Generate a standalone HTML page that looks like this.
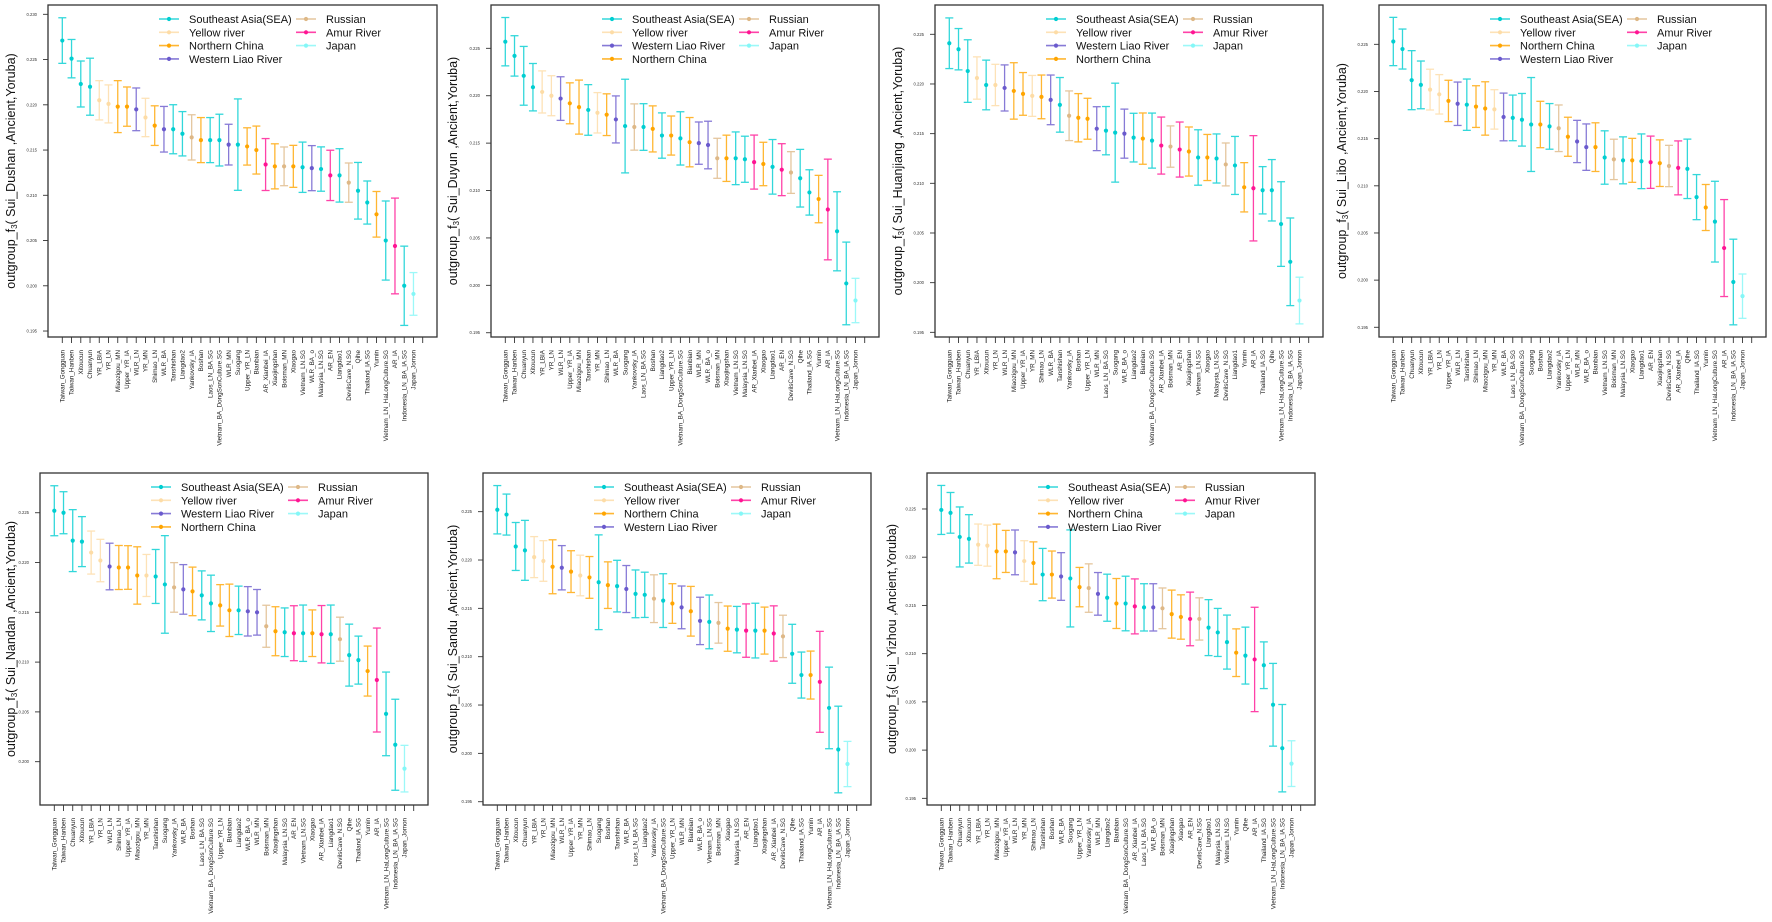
<!DOCTYPE html>
<html><head><meta charset="utf-8"><title>outgroup f3 panels</title>
<style>
html,body{margin:0;padding:0;background:#fff;}
svg{display:block;font-family:"Liberation Sans",Arial,sans-serif;}
</style></head>
<body>
<svg id="fig" width="1772" height="922" viewBox="0 0 1772 922" xmlns="http://www.w3.org/2000/svg">
<rect x="0" y="0" width="1772" height="922" fill="#fff"/>
</svg>
<script>
// ---------- Panel 1: Sui_Dushan ----------
const names_dushan = ["Taiwan_Gongguan","Taiwan_Hanben","Xitoucun","Chuanyun","YR_LBIA","YR_LN","Miaozigou_MN","Upper_YR_IA","WLR_LN","YR_MN","Shimao_LN","WLR_BA","Tanshishan","Liangdao2","Yankovsky_IA","Boshan","Laos_LN_BA.SG","Vietnam_BA_DongSonCulture.SG","WLR_MN","Suogang","Upper_YR_LN","Bianbian","AR_Xianbei_IA","Xiaojingshan","Boisman_MN","Xiaogao","Vietnam_LN.SG","WLR_BA_o","Malaysia_LN.SG","AR_EN","Liangdao1","DevilsCave_N.SG","Qihe","Thailand_IA.SG","Yumin","Vietnam_LN_HaLongCulture.SG","AR_IA","Indonesia_LN_BA_IA.SG","Japan_Jomon"];
const values_dushan = [0.2271,0.2251,0.2223,0.2220,0.2205,0.2201,0.2198,0.2198,0.2195,0.2186,0.2177,0.2173,0.2173,0.2168,0.2164,0.2161,0.2161,0.2161,0.2156,0.2156,0.2154,0.2150,0.2134,0.2132,0.2132,0.2132,0.2131,0.2130,0.2129,0.2122,0.2122,0.2114,0.2105,0.2092,0.2079,0.2050,0.2044,0.2000,0.1991];
const errors_dushan = [0.00252,0.00212,0.00254,0.00315,0.00217,0.0021,0.00287,0.00217,0.00236,0.00212,0.00219,0.00252,0.00271,0.00245,0.0025,0.00249,0.00249,0.00286,0.00225,0.00505,0.00206,0.00265,0.00287,0.00249,0.00214,0.00232,0.00278,0.00249,0.00245,0.00278,0.00295,0.00217,0.00313,0.00238,0.00252,0.00437,0.00529,0.00438,0.00236];
const ticks_dushan = [0.195,0.200,0.205,0.210,0.215,0.220,0.225,0.230];

// ---------- Panel 2: Sui_Duyun ----------
const names_duyun = ["Taiwan_Gongguan","Taiwan_Hanben","Chuanyun","Xitoucun","YR_LBIA","YR_LN","WLR_LN","Upper_YR_IA","Miaozigou_MN","Tanshishan","YR_MN","Shimao_LN","WLR_BA","Suogang","Yankovsky_IA","Laos_LN_BA.SG","Boshan","Liangdao2","Upper_YR_LN","Vietnam_BA_DongSonCulture.SG","Bianbian","WLR_MN","WLR_BA_o","Boisman_MN","Xiaojingshan","Vietnam_LN.SG","Malaysia_LN.SG","AR_Xianbei_IA","Xiaogao","Liangdao1","AR_EN","DevilsCave_N.SG","Qihe","Thailand_IA.SG","Yumin","AR_IA","Vietnam_LN_HaLongCulture.SG","Indonesia_LN_BA_IA.SG","Japan_Jomon"];
const values_duyun = [0.2257,0.2242,0.2221,0.2209,0.2204,0.2200,0.2197,0.2192,0.2188,0.2185,0.2182,0.2180,0.2175,0.2168,0.2167,0.2167,0.2165,0.2158,0.2158,0.2155,0.2151,0.2150,0.2148,0.2134,0.2134,0.2134,0.2133,0.2130,0.2128,0.2125,0.2122,0.2119,0.2113,0.2098,0.2091,0.2080,0.2057,0.2002,0.1984];
const errors_duyun = [0.00255,0.00213,0.0031,0.0025,0.00222,0.00211,0.0023,0.00216,0.00285,0.00267,0.00213,0.0022,0.00248,0.00494,0.00244,0.00246,0.00243,0.00239,0.00206,0.00281,0.0026,0.00223,0.00251,0.00211,0.00244,0.00278,0.00243,0.00285,0.00229,0.00288,0.00274,0.0022,0.00304,0.00239,0.0025,0.00531,0.00417,0.00436,0.00234];
const ticks_duyun = [0.195,0.200,0.205,0.210,0.215,0.220,0.225];

// ---------- Panel 3: Sui_Huanjiang ----------
const names_huanjiang = ["Taiwan_Gongguan","Taiwan_Hanben","Chuanyun","YR_LBIA","Xitoucun","YR_LN","WLR_LN","Miaozigou_MN","Upper_YR_IA","YR_MN","Shimao_LN","WLR_BA","Tanshishan","Yankovsky_IA","Boshan","Upper_YR_LN","WLR_MN","Laos_LN_BA.SG","Suogang","WLR_BA_o","Liangdao2","Bianbian","Vietnam_BA_DongSonCulture.SG","AR_Xianbei_IA","Boisman_MN","AR_EN","Xiaojingshan","Vietnam_LN.SG","Xiaogao","Malaysia_LN.SG","DevilsCave_N.SG","Liangdao1","Yumin","AR_IA","Thailand_IA.SG","Qihe","Vietnam_LN_HaLongCulture.SG","Indonesia_LN_BA_IA.SG","Japan_Jomon"];
const values_huanjiang = [0.2241,0.2235,0.2213,0.2206,0.2199,0.2199,0.2196,0.2193,0.2190,0.2188,0.2187,0.2184,0.2179,0.2168,0.2166,0.2165,0.2155,0.2153,0.2151,0.2150,0.2146,0.2145,0.2143,0.2138,0.2137,0.2134,0.2132,0.2126,0.2126,0.2125,0.2119,0.2118,0.2096,0.2095,0.2093,0.2093,0.2059,0.2021,0.1982];
const errors_huanjiang = [0.00255,0.00208,0.00315,0.00213,0.0025,0.00208,0.00232,0.00284,0.00215,0.00206,0.0022,0.0025,0.00275,0.0025,0.00243,0.00206,0.00221,0.00243,0.00498,0.00247,0.00245,0.00258,0.00277,0.00287,0.00208,0.00277,0.00247,0.00279,0.00232,0.00247,0.00216,0.00292,0.00248,0.0053,0.00238,0.00309,0.00426,0.00441,0.00235];
const ticks_huanjiang = [0.195,0.200,0.205,0.210,0.215,0.220,0.225];

// ---------- Panel 4: Sui_Libo ----------
const names_libo = ["Taiwan_Gongguan","Taiwan_Hanben","Chuanyun","Xitoucun","YR_LBIA","YR_LN","Upper_YR_IA","WLR_LN","Tanshishan","Shimao_LN","Miaozigou_MN","YR_MN","WLR_BA","Laos_LN_BA.SG","Vietnam_BA_DongSonCulture.SG","Suogang","Boshan","Liangdao2","Yankovsky_IA","Upper_YR_LN","WLR_MN","WLR_BA_o","Bianbian","Vietnam_LN.SG","Boisman_MN","Malaysia_LN.SG","Xiaogao","Liangdao1","AR_EN","Xiaojingshan","DevilsCave_N.SG","AR_Xianbei_IA","Qihe","Thailand_IA.SG","Yumin","Vietnam_LN_HaLongCulture.SG","AR_IA","Indonesia_LN_BA_IA.SG","Japan_Jomon"];
const values_libo = [0.2253,0.2245,0.2212,0.2207,0.2202,0.2197,0.2190,0.2187,0.2186,0.2184,0.2182,0.2181,0.2173,0.2172,0.2170,0.2165,0.2165,0.2163,0.2161,0.2152,0.2147,0.2141,0.2141,0.2130,0.2128,0.2127,0.2127,0.2126,0.2125,0.2124,0.2121,0.2119,0.2118,0.2088,0.2077,0.2062,0.2034,0.1998,0.1983];
const errors_libo = [0.00256,0.00212,0.00313,0.00253,0.00216,0.00209,0.00219,0.0023,0.00272,0.00221,0.00283,0.00209,0.00253,0.00242,0.00279,0.00498,0.00246,0.00242,0.00247,0.00207,0.00224,0.00246,0.00258,0.00283,0.00214,0.00249,0.00233,0.0029,0.00277,0.00247,0.00219,0.00286,0.00315,0.00239,0.00244,0.00428,0.00514,0.00454,0.00235];
const ticks_libo = [0.195,0.200,0.205,0.210,0.215,0.220,0.225];

// ---------- Panel 5: Sui_Nandan ----------
const names_nandan = ["Taiwan_Gongguan","Taiwan_Hanben","Chuanyun","Xitoucun","YR_LBIA","YR_LN","WLR_LN","Shimao_LN","Upper_YR_IA","Miaozigou_MN","YR_MN","Tanshishan","Suogang","Yankovsky_IA","WLR_BA","Boshan","Laos_LN_BA.SG","Vietnam_BA_DongSonCulture.SG","Upper_YR_LN","Bianbian","Liangdao2","WLR_BA_o","WLR_MN","Boisman_MN","Xiaojingshan","Malaysia_LN.SG","AR_EN","Vietnam_LN.SG","Xiaogao","AR_Xianbei_IA","Liangdao1","DevilsCave_N.SG","Qihe","Thailand_IA.SG","Yumin","AR_IA","Vietnam_LN_HaLongCulture.SG","Indonesia_LN_BA_IA.SG","Japan_Jomon"];
const values_nandan = [0.2252,0.2250,0.2222,0.2221,0.2210,0.2202,0.2196,0.2195,0.2195,0.2187,0.2187,0.2186,0.2178,0.2175,0.2173,0.2171,0.2167,0.2159,0.2157,0.2152,0.2152,0.2151,0.2150,0.2136,0.2131,0.2130,0.2129,0.2129,0.2129,0.2128,0.2128,0.2123,0.2107,0.2102,0.2091,0.2082,0.2048,0.2017,0.1993];
const errors_nandan = [0.00251,0.00211,0.00311,0.00251,0.00216,0.00213,0.00234,0.00221,0.00219,0.00288,0.00211,0.00271,0.0049,0.00249,0.00249,0.00244,0.00246,0.00283,0.00208,0.00263,0.00243,0.00248,0.00229,0.00211,0.00246,0.00244,0.00276,0.00283,0.00234,0.00288,0.00293,0.00221,0.00311,0.00241,0.00251,0.00522,0.0042,0.00457,0.00234];
const ticks_nandan = [0.200,0.205,0.210,0.215,0.220,0.225];

// ---------- Panel 6: Sui_Sandu ----------
const names_sandu = ["Taiwan_Gongguan","Taiwan_Hanben","Xitoucun","Chuanyun","YR_LBIA","YR_LN","Miaozigou_MN","WLR_LN","Upper_YR_IA","YR_MN","Shimao_LN","Suogang","Boshan","Tanshishan","WLR_BA","Laos_LN_BA.SG","Liangdao2","Yankovsky_IA","Vietnam_BA_DongSonCulture.SG","Upper_YR_LN","WLR_MN","Bianbian","WLR_BA_o","Vietnam_LN.SG","Boisman_MN","Xiaogao","Malaysia_LN.SG","AR_EN","Liangdao1","Xiaojingshan","AR_Xianbei_IA","DevilsCave_N.SG","Qihe","Thailand_IA.SG","Yumin","AR_IA","Vietnam_LN_HaLongCulture.SG","Indonesia_LN_BA_IA.SG","Japan_Jomon"];
const values_sandu = [0.2252,0.2247,0.2214,0.2210,0.2203,0.2199,0.2193,0.2192,0.2188,0.2184,0.2182,0.2177,0.2174,0.2173,0.2170,0.2165,0.2164,0.2160,0.2158,0.2155,0.2151,0.2147,0.2137,0.2136,0.2135,0.2129,0.2128,0.2127,0.2127,0.2127,0.2124,0.2121,0.2103,0.2081,0.2081,0.2074,0.2047,0.2004,0.1989];
const errors_sandu = [0.0025,0.00212,0.00248,0.0031,0.00212,0.0021,0.00279,0.00229,0.00216,0.0021,0.00216,0.0049,0.00241,0.00267,0.00243,0.00247,0.00234,0.00247,0.00278,0.00205,0.00221,0.00257,0.00245,0.00278,0.0021,0.00234,0.0024,0.00276,0.00283,0.00243,0.00286,0.00219,0.00305,0.00238,0.00248,0.00522,0.00422,0.00448,0.00234];
const ticks_sandu = [0.195,0.200,0.205,0.210,0.215,0.220,0.225];

// ---------- Panel 7: Sui_Yizhou ----------
const names_yizhou = ["Taiwan_Gongguan","Taiwan_Hanben","Chuanyun","Xitoucun","YR_LBIA","YR_LN","Miaozigou_MN","Upper_YR_IA","WLR_LN","YR_MN","Shimao_LN","Tanshishan","Boshan","WLR_BA","Suogang","Upper_YR_LN","Yankovsky_IA","WLR_MN","Liangdao2","Bianbian","Vietnam_BA_DongSonCulture.SG","AR_Xianbei_IA","Laos_LN_BA.SG","WLR_BA_o","Boisman_MN","Xiaojingshan","Xiaogao","AR_EN","DevilsCave_N.SG","Liangdao1","Malaysia_LN.SG","Vietnam_LN.SG","Yumin","Qihe","AR_IA","Thailand_IA.SG","Vietnam_LN_HaLongCulture.SG","Indonesia_LN_BA_IA.SG","Japan_Jomon"];
const values_yizhou = [0.2249,0.2246,0.2221,0.2219,0.2213,0.2212,0.2206,0.2206,0.2205,0.2196,0.2194,0.2182,0.2182,0.2180,0.2178,0.2169,0.2168,0.2162,0.2158,0.2152,0.2152,0.2149,0.2148,0.2148,0.2147,0.2141,0.2138,0.2136,0.2136,0.2127,0.2122,0.2112,0.2101,0.2098,0.2094,0.2088,0.2047,0.2002,0.1986];
const errors_yizhou = [0.00254,0.00211,0.00311,0.00251,0.00214,0.00213,0.00283,0.00218,0.00232,0.00211,0.00219,0.00271,0.00244,0.00247,0.00503,0.00204,0.00251,0.00221,0.00244,0.00259,0.00283,0.00285,0.00245,0.00245,0.00211,0.00249,0.0023,0.00278,0.00219,0.0029,0.00249,0.0028,0.00247,0.00295,0.00541,0.00242,0.00429,0.00453,0.00237];
const ticks_yizhou = [0.195,0.200,0.205,0.210,0.215,0.220,0.225];

// ---------- groups ----------
const groupOf = {
  "Taiwan_Gongguan":"SEA","Taiwan_Hanben":"SEA","Xitoucun":"SEA","Chuanyun":"SEA","Tanshishan":"SEA","Liangdao2":"SEA",
  "Laos_LN_BA.SG":"SEA","Vietnam_BA_DongSonCulture.SG":"SEA","Suogang":"SEA","Vietnam_LN.SG":"SEA","Malaysia_LN.SG":"SEA",
  "Liangdao1":"SEA","Qihe":"SEA","Thailand_IA.SG":"SEA","Vietnam_LN_HaLongCulture.SG":"SEA","Indonesia_LN_BA_IA.SG":"SEA",
  "YR_LBIA":"YR","YR_LN":"YR","YR_MN":"YR",
  "Miaozigou_MN":"NC","Upper_YR_IA":"NC","Shimao_LN":"NC","Boshan":"NC","Upper_YR_LN":"NC","Bianbian":"NC","Xiaojingshan":"NC","Xiaogao":"NC","Yumin":"NC",
  "WLR_LN":"WLR","WLR_BA":"WLR","WLR_MN":"WLR","WLR_BA_o":"WLR",
  "Yankovsky_IA":"RU","Boisman_MN":"RU","DevilsCave_N.SG":"RU",
  "AR_Xianbei_IA":"AR","AR_EN":"AR","AR_IA":"AR","Japan_Jomon":"JP"
};
const groupColor = {SEA:"#00CED1",YR:"#FDDCA6",NC:"#FFA500",WLR:"#6A5ACD",RU:"#DEB887",AR:"#FF1493",JP:"#84F7F7"};
const groupLabel = {SEA:"Southeast Asia(SEA)",YR:"Yellow river",NC:"Northern China",WLR:"Western Liao River",RU:"Russian",AR:"Amur River",JP:"Japan"};
const legendA = ["SEA","YR","NC","WLR"];
const legendB = ["SEA","YR","WLR","NC"];

const panels = [
  {id:"dushan",title:"Sui_Dushan",names:names_dushan,vals:values_dushan,errs:errors_dushan,ticks:ticks_dushan,leg:legendA,box:[48,5,437,337],ylim:[0.19434,0.23103],toff:37},
  {id:"duyun",title:"Sui_Duyun",names:names_duyun,vals:values_duyun,errs:errors_duyun,ticks:ticks_duyun,leg:legendB,box:[491,5,879,337],ylim:[0.19455,0.22957],toff:38},
  {id:"huanjiang",title:"Sui_Huanjiang",names:names_huanjiang,vals:values_huanjiang,errs:errors_huanjiang,ticks:ticks_huanjiang,leg:legendB,box:[935,5,1323,337],ylim:[0.19453,0.22795],toff:37},
  {id:"libo",title:"Sui_Libo",names:names_libo,vals:values_libo,errs:errors_libo,ticks:ticks_libo,leg:legendA,box:[1379,5,1766,337],ylim:[0.19397,0.22917],toff:37},
  {id:"nandan",title:"Sui_Nandan",names:names_nandan,vals:values_nandan,errs:errors_nandan,ticks:ticks_nandan,leg:legendB,box:[40,473,428,805],ylim:[0.19565,0.22899],toff:29},
  {id:"sandu",title:"Sui_Sandu",names:names_sandu,vals:values_sandu,errs:errors_sandu,ticks:ticks_sandu,leg:legendA,box:[483,473,871,805],ylim:[0.19466,0.2290],toff:30},
  {id:"yizhou",title:"Sui_Yizhou",names:names_yizhou,vals:values_yizhou,errs:errors_yizhou,ticks:ticks_yizhou,leg:legendA,box:[927,473,1315,805],ylim:[0.19431,0.22873],toff:35}
];

const NS = "http://www.w3.org/2000/svg";
const svg = document.getElementById("fig");
function mk(tag, attrs, parent){
  const e = document.createElementNS(NS, tag);
  for (const k in attrs) e.setAttribute(k, attrs[k]);
  parent.appendChild(e);
  return e;
}

panels.forEach(p => {
  const [x0,y0,x1,y1] = p.box;
  const n = p.names.length;
  const xs = i => x0 + 14.3 + i * (x1 - x0 - 28.6) / n;
  const ys = v => y0 + (p.ylim[1] - v) / (p.ylim[1] - p.ylim[0]) * (y1 - y0);

  const g = mk("g", {}, svg);
  
  

  const frame = mk("rect", {x:x0, y:y0, width:x1-x0, height:y1-y0, fill:"none", stroke:"#333", "stroke-width":1.3}, g);
  
  

  p.ticks.forEach(t => {
    const y = ys(t);
    const tl = mk("line", {x1:x0-5, x2:x0, y1:y, y2:y, stroke:"#333", "stroke-width":0.9}, g);
    
    
    const tx = mk("text", {x:x0-11, y:y+1.5, "font-size":4.2, "text-anchor":"end", fill:"#333"}, g);
    tx.textContent = t.toFixed(3);
    
    
  });

  const cy = (y0 + y1) / 2, cx = x0 - p.toff + 4;
  const yt = mk("text", {x:cx, y:cy, "font-size":12.5, "text-anchor":"middle", fill:"#111", transform:`rotate(-90 ${cx} ${cy})`}, g);
  
  
  const t1 = mk("tspan", {}, yt); t1.textContent = "outgroup_f";
  const t2 = mk("tspan", {"font-size":8, dy:2}, yt); t2.textContent = "3";
  const t3 = mk("tspan", {dy:-2}, yt); t3.textContent = "( " + p.title + " ,Ancient,Yoruba)";

  for (let i = 0; i <= n; i++) {
    const x = xs(i);
    const tk = mk("line", {x1:x, x2:x, y1:y1, y2:y1+6, stroke:"#333", "stroke-width":0.9}, g);
    
    
  }
  p.names.forEach((nm, i) => {
    const x = xs(i) + 2.2, y = y1 + 13;
    const lb = mk("text", {x:x, y:y, "font-size":6.3, "text-anchor":"end", fill:"#222", transform:`rotate(-90 ${x} ${y})`}, g);
    lb.textContent = nm;
    
    
  });

  p.names.forEach((nm, i) => {
    const c = groupColor[groupOf[nm]];
    const x = xs(i), v = p.vals[i], e = p.errs[i];
    const yt_ = ys(v + e), yb = ys(v - e), yp = ys(v);
    const eg = mk("g", {stroke:c, "stroke-width":1.3, opacity:0.8}, g);
    
    
    mk("line", {x1:x, x2:x, y1:yt_, y2:yb}, eg);
    mk("line", {x1:x-4, x2:x+4, y1:yt_, y2:yt_}, eg);
    mk("line", {x1:x-4, x2:x+4, y1:yb, y2:yb}, eg);
    const pt = mk("circle", {cx:x, cy:yp, r:2.1, fill:c}, g);
    
    
  });

  const lg = mk("g", {}, g);
  
  
  const colA = p.leg, colB = ["RU","AR","JP"];
  const addEntry = (key, lx, tx, y) => {
    const c = groupColor[key];
    const eg = mk("g", {}, lg);
    
    
    mk("line", {x1:lx, x2:lx+20, y1:y, y2:y, stroke:c, "stroke-width":1.6, opacity:0.8}, eg);
    mk("circle", {cx:lx+10, cy:y, r:2.1, fill:c}, eg);
    const t = mk("text", {x:tx, y:y+4, "font-size":11, fill:"#111"}, eg);
    t.textContent = groupLabel[key];
  };
  colA.forEach((k, r) => addEntry(k, x0+111, x0+141, y0+14+r*13.3));
  colB.forEach((k, r) => addEntry(k, x0+248, x0+278, y0+14+r*13.3));
});
</script>
</body></html>
